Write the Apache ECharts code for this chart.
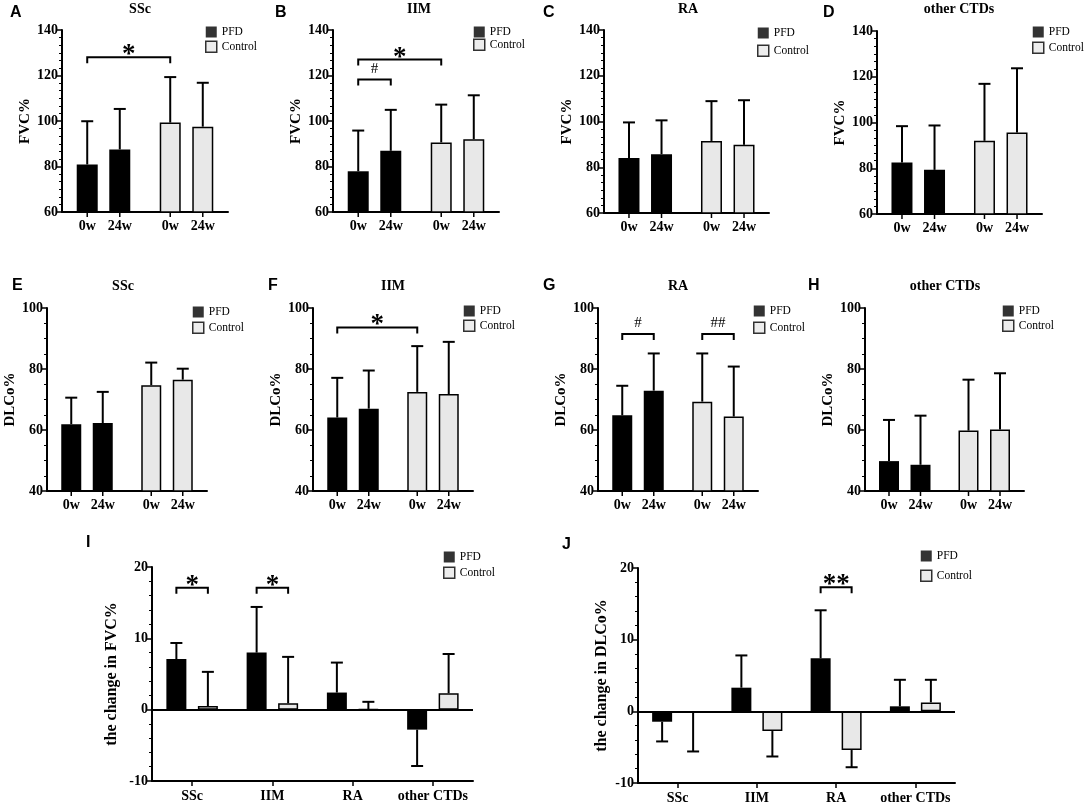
<!DOCTYPE html>
<html>
<head>
<meta charset="utf-8">
<script src="https://cdn.jsdelivr.net/npm/echarts@6/dist/echarts.min.js"></script>
<style>
  html, body { margin: 0; background: #fff; }
  #chart { width: 1084px; height: 807px; }
</style>
</head>
<body>
<div id="chart"></div>
<script>
const weeks = ['0w', '24w'];
const groups = ['PFD', 'Control'];
const diseases = ['SSc', 'IIM', 'RA', 'other CTDs'];

// order in each array: PFD 0w, PFD 24w, Control 0w, Control 24w
// *Mean = bar height, *Top = end of the SD whisker
const fvcSScMean = [80.9, 87.5, 99.3, 97.5];
const fvcSScTop = [99.9, 105.3, 119.3, 116.8];
const fvcIIMMean = [77.9, 86.9, 90.6, 92.0];
const fvcIIMTop = [95.8, 104.9, 107.2, 111.3];
const fvcRAMean = [84.0, 85.7, 91.5, 89.8];
const fvcRATop = [99.6, 100.5, 108.9, 109.3];
const fvcOtherMean = [82.5, 79.3, 92.0, 95.6];
const fvcOtherTop = [98.4, 98.7, 116.9, 123.7];

const dlcoSScMean = [61.9, 62.3, 74.7, 76.5];
const dlcoSScTop = [70.6, 72.5, 82.1, 80.1];
const dlcoIIMMean = [64.1, 67.0, 72.5, 71.8];
const dlcoIIMTop = [77.1, 79.5, 87.5, 88.9];
const dlcoRAMean = [64.8, 72.9, 69.3, 64.4];
const dlcoRATop = [74.5, 85.1, 85.1, 80.8];
const dlcoOtherMean = [49.8, 48.6, 59.8, 60.2];
const dlcoOtherTop = [63.3, 64.7, 76.5, 78.6];

// change 0w -> 24w, one value per disease
const dFvcPfd = [7.1, 8.0, 2.4, -2.8];
const dFvcPfdEnd = [9.35, 14.4, 6.6, -7.9];
const dFvcCtrl = [0.5, 0.9, 0.05, 2.3];
const dFvcCtrlEnd = [5.3, 7.4, 1.1, 7.8];
const dDlcoPfd = [-1.45, 3.3, 7.4, 0.7];
const dDlcoPfdEnd = [-4.2, 7.8, 14.1, 4.4];
const dDlcoCtrl = [-0.2, -2.75, -5.4, 1.25];
const dDlcoCtrlEnd = [-5.6, -6.3, -7.8, 4.4];

// significance brackets: [from bar, to bar, level, mark]
const brA = [[0, 2, 128, '*']];
const brB = [[0, 2, 127, '*'], [0, 1, 118.2, '#']];
const brF = [[0, 2, 93.6, '*']];
const brG = [[0, 1, 91.5, '#'], [2, 3, 91.5, '##']];
const brI = [[0, 1, 17.1, '*'], [2, 3, 17.1, '*']];
const brJ = [[4, 5, 17.3, '**']];

const SERIF = '"Liberation Serif", "Times New Roman", serif';
const SANS = '"Liberation Sans", Arial, sans-serif';
const pfdStyle = { color: '#000' };
const ctrlStyle = { color: '#e8e8e8', borderColor: '#000', borderWidth: 1.5 };

// lg: [left, first row centre y, item gap]
const panels = [
  { letter: 'A', title: 'SSc', yName: 'FVC%', mean: fvcSScMean, top: fvcSScTop, br: brA,
    box: [62, 30, 166, 182], range: [60, 140, 6], bw: 21, gap: 0.55, lg: [205, 32, 2.5], L: [10, 14], T: [140, 10], ng: 22.5 },
  { letter: 'B', title: 'IIM', yName: 'FVC%', mean: fvcIIMMean, top: fvcIIMTop, br: brB,
    box: [333, 30, 166, 182], range: [60, 140, 6], bw: 21, gap: 0.55, lg: [473, 32, 0.5], L: [275, 14], T: [419, 10], ng: 29 },
  { letter: 'C', title: 'RA', yName: 'FVC%', mean: fvcRAMean, top: fvcRATop, br: [],
    box: [604, 30, 165, 183], range: [60, 140, 6], bw: 21, gap: 0.55, lg: [757, 33, 5.5], L: [543, 14], T: [688, 10], ng: 23 },
  { letter: 'D', title: 'other CTDs', yName: 'FVC%', mean: fvcOtherMean, top: fvcOtherTop, br: [],
    box: [877, 31, 165, 183], range: [60, 140, 6], bw: 21, gap: 0.55, lg: [1032, 32, 3.5], L: [823, 14], T: [959, 10], ng: 22.5 },
  { letter: 'E', title: 'SSc', yName: 'DLCo%', mean: dlcoSScMean, top: dlcoSScTop, br: [],
    box: [47, 308, 160, 183], range: [40, 100, 4], bw: 20, gap: 0.575, lg: [192, 312, 3.5], L: [12, 287], T: [123, 287], ng: 20 },
  { letter: 'F', title: 'IIM', yName: 'DLCo%', mean: dlcoIIMMean, top: dlcoIIMTop, br: brF,
    box: [313, 308, 160, 183], range: [40, 100, 4], bw: 20, gap: 0.575, lg: [463, 311, 2.5], L: [268, 287], T: [393, 287], ng: 18 },
  { letter: 'G', title: 'RA', yName: 'DLCo%', mean: dlcoRAMean, top: dlcoRATop, br: brG,
    box: [598, 308, 160, 183], range: [40, 100, 4], bw: 20, gap: 0.575, lg: [753, 311, 4.5], L: [543, 287], T: [678, 287], ng: 19 },
  { letter: 'H', title: 'other CTDs', yName: 'DLCo%', mean: dlcoOtherMean, top: dlcoOtherTop, br: [],
    box: [865, 308, 159, 183], range: [40, 100, 4], bw: 20, gap: 0.575, lg: [1002, 311, 2.5], L: [808, 287], T: [945, 287], ng: 20 }
];

const changePanels = [
  { letter: 'I', yName: 'the change in FVC%', pfd: dFvcPfd, pfdEnd: dFvcPfdEnd, ctrl: dFvcCtrl, ctrlEnd: dFvcCtrlEnd, br: brI,
    box: [152, 567, 321, 214], bw: 20, gap: 0.575, lg: [443, 557, 3.5], L: [86, 544], ng: 32 },
  { letter: 'J', yName: 'the change in DLCo%', pfd: dDlcoPfd, pfdEnd: dDlcoPfdEnd, ctrl: dDlcoCtrl, ctrlEnd: dDlcoCtrlEnd, br: brJ,
    box: [638, 568, 317, 215], bw: 20, gap: 0.55, lg: [920, 556, 7.5], L: [562, 546], ng: 28 }
];

const option = {
  animation: false,
  backgroundColor: '#fff',
  grid: [], xAxis: [], yAxis: [], series: [], legend: [], title: []
};

function valueAxis(gi, min, max, interval, minorSplit, name, nameGap, nameSize) {
  return {
    gridIndex: gi, type: 'value', min: min, max: max, interval: interval,
    name: name, nameLocation: 'middle', nameGap: nameGap,
    nameTextStyle: { color: '#000', fontFamily: SERIF, fontWeight: 'bold', fontSize: nameSize },
    axisLine: { show: true, lineStyle: { color: '#000', width: 2 } },
    axisTick: { show: true, length: 5, lineStyle: { color: '#000', width: 1.5 } },
    minorTick: { show: true, splitNumber: minorSplit, length: 3, lineStyle: { color: '#000', width: 1 } },
    splitLine: { show: false },
    minorSplitLine: { show: false },
    axisLabel: { color: '#000', fontFamily: SERIF, fontWeight: 'bold', fontSize: 14, margin: 4 }
  };
}

function legendFor(lg) {
  return {
    orient: 'vertical', left: lg[0], top: lg[1] - 6, padding: 0, itemGap: lg[2],
    itemWidth: 11, itemHeight: 11, icon: 'rect', selectedMode: false,
    textStyle: { color: '#000', fontFamily: SERIF, fontSize: 11.5 },
    data: [
      { name: groups[0], itemStyle: pfdStyle },
      { name: groups[1], itemStyle: ctrlStyle }
    ]
  };
}

// whiskers (mean -> mean+SD) drawn at the bar's offset inside its category
function errorSeries(gi, bw, gap, rows, showWeeks) {
  return {
    type: 'custom', xAxisIndex: gi, yAxisIndex: gi, z: 5, clip: false, silent: true,
    encode: { x: 0, y: 1 },
    renderItem: function (params, api) {
      const cat = api.value(0), mean = api.value(1), end = api.value(2), sub = api.value(3);
      const p = api.coord([cat, mean]);
      const q = api.coord([cat, end]);
      const x = p[0] + (sub - 0.5) * bw * (1 + gap);
      const kids = [
        { type: 'line', shape: { x1: x, y1: p[1], x2: x, y2: q[1] }, style: { stroke: '#000', lineWidth: 2 } },
        { type: 'line', shape: { x1: x - 6, y1: q[1], x2: x + 6, y2: q[1] }, style: { stroke: '#000', lineWidth: 2 } }
      ];
      if (showWeeks) {
        const cs = params.coordSys;
        const yb = cs.y + cs.height;
        kids.push({ type: 'line', shape: { x1: x, y1: yb, x2: x, y2: yb + 5 }, style: { stroke: '#000', lineWidth: 1.5 } });
        kids.push({ type: 'text', x: x, y: yb + 7,
          style: { text: weeks[sub], fill: '#000', font: 'bold 14px ' + SERIF, align: 'center', verticalAlign: 'top' } });
      }
      return { type: 'group', children: kids };
    },
    data: rows
  };
}

function bracketSeries(gi, bw, gap, list) {
  return {
    type: 'custom', xAxisIndex: gi, yAxisIndex: gi, z: 6, clip: false, silent: true,
    encode: { x: 0, y: 1 },
    renderItem: function (params, api) {
      const b = list[params.dataIndex];
      const step = bw * (1 + gap);
      const a = api.coord([Math.floor(b[0] / 2), b[2]]);
      const c = api.coord([Math.floor(b[1] / 2), b[2]]);
      const x1 = a[0] + (b[0] % 2 - 0.5) * step;
      const x2 = c[0] + (b[1] % 2 - 0.5) * step;
      const y = a[1];
      const star = b[3].indexOf('*') >= 0;
      return {
        type: 'group',
        children: [
          { type: 'polyline', shape: { points: [[x1, y + 6], [x1, y], [x2, y], [x2, y + 6]] },
            style: { stroke: '#000', lineWidth: 2, fill: null } },
          { type: 'text', x: (x1 + x2) / 2, y: star ? y - 2 : y - 11,
            style: { text: b[3], fill: '#000', align: 'center', verticalAlign: 'middle',
              font: (star ? 'bold 27px ' : '15px ') + SERIF } }
        ]
      };
    },
    data: list.map(b => [Math.floor(b[0] / 2), b[2]])
  };
}

function addTitle(text, x, y, font, size) {
  option.title.push({
    text: text, left: x, top: y - size / 2 - 1, textAlign: 'left', padding: 0,
    textStyle: { color: '#000', fontFamily: font, fontWeight: 'bold', fontSize: size }
  });
}

panels.forEach(function (p, gi) {
  option.grid.push({ left: p.box[0], top: p.box[1], width: p.box[2], height: p.box[3], outerBoundsMode: 'none' });
  option.xAxis.push({
    gridIndex: gi, type: 'category', data: groups,
    axisLine: { onZero: false, lineStyle: { color: '#000', width: 2 } },
    axisTick: { show: false }, axisLabel: { show: false }
  });
  option.yAxis.push(valueAxis(gi, p.range[0], p.range[1], 20, p.range[2], p.yName, p.ng, 15));
  weeks.forEach(function (w, k) {
    option.series.push({
      type: 'bar', name: w, xAxisIndex: gi, yAxisIndex: gi,
      barWidth: p.bw, barGap: (p.gap * 100) + '%',
      emphasis: { disabled: true },
      data: [
        { value: p.mean[k], itemStyle: pfdStyle },
        { value: p.mean[2 + k], itemStyle: ctrlStyle }
      ]
    });
  });
  // legend entries only
  groups.forEach(function (g) {
    option.series.push({ type: 'scatter', name: g, xAxisIndex: gi, yAxisIndex: gi, data: [] });
  });
  const rows = [];
  for (let i = 0; i < 4; i++) rows.push([Math.floor(i / 2), p.mean[i], p.top[i], i % 2]);
  option.series.push(errorSeries(gi, p.bw, p.gap, rows, true));
  if (p.br.length) option.series.push(bracketSeries(gi, p.bw, p.gap, p.br));
  option.legend.push(legendFor(p.lg));
  option.title.push({
    text: p.title, left: p.T[0], top: p.T[1] - 8, textAlign: 'center', padding: 0,
    textStyle: { color: '#000', fontFamily: SERIF, fontWeight: 'bold', fontSize: 14 }
  });
  addTitle(p.letter, p.L[0], p.L[1], SANS, 16);
});

changePanels.forEach(function (p, j) {
  const gi = panels.length + j;
  option.grid.push({ left: p.box[0], top: p.box[1], width: p.box[2], height: p.box[3], outerBoundsMode: 'none' });
  option.xAxis.push({
    gridIndex: gi, type: 'category', data: diseases,
    axisLine: { onZero: false, lineStyle: { color: '#000', width: 2 } },
    axisTick: { show: true, alignWithLabel: true, length: 5, lineStyle: { color: '#000', width: 1.5 } },
    axisLabel: { color: '#000', fontFamily: SERIF, fontWeight: 'bold', fontSize: 14, margin: 8, interval: 0 }
  });
  option.yAxis.push(valueAxis(gi, -10, 20, 10, 5, p.yName, p.ng, 16));
  option.series.push({
    type: 'bar', name: groups[0], xAxisIndex: gi, yAxisIndex: gi,
    barWidth: p.bw, barGap: (p.gap * 100) + '%', itemStyle: pfdStyle,
    emphasis: { disabled: true }, data: p.pfd,
    markLine: {
      silent: true, symbol: 'none', label: { show: false },
      lineStyle: { color: '#000', width: 2, type: 'solid' },
      data: [{ yAxis: 0 }]
    }
  });
  option.series.push({
    type: 'bar', name: groups[1], xAxisIndex: gi, yAxisIndex: gi,
    barWidth: p.bw, barGap: (p.gap * 100) + '%', itemStyle: ctrlStyle,
    emphasis: { disabled: true }, data: p.ctrl
  });
  const rows = [];
  diseases.forEach(function (d, c) {
    rows.push([c, p.pfd[c], p.pfdEnd[c], 0]);
    rows.push([c, p.ctrl[c], p.ctrlEnd[c], 1]);
  });
  option.series.push(errorSeries(gi, p.bw, p.gap, rows, false));
  option.series.push(bracketSeries(gi, p.bw, p.gap, p.br));
  option.legend.push(legendFor(p.lg));
  addTitle(p.letter, p.L[0], p.L[1], SANS, 16);
});

const chart = echarts.init(document.getElementById('chart'));
chart.setOption(option);
</script>
</body>
</html>
